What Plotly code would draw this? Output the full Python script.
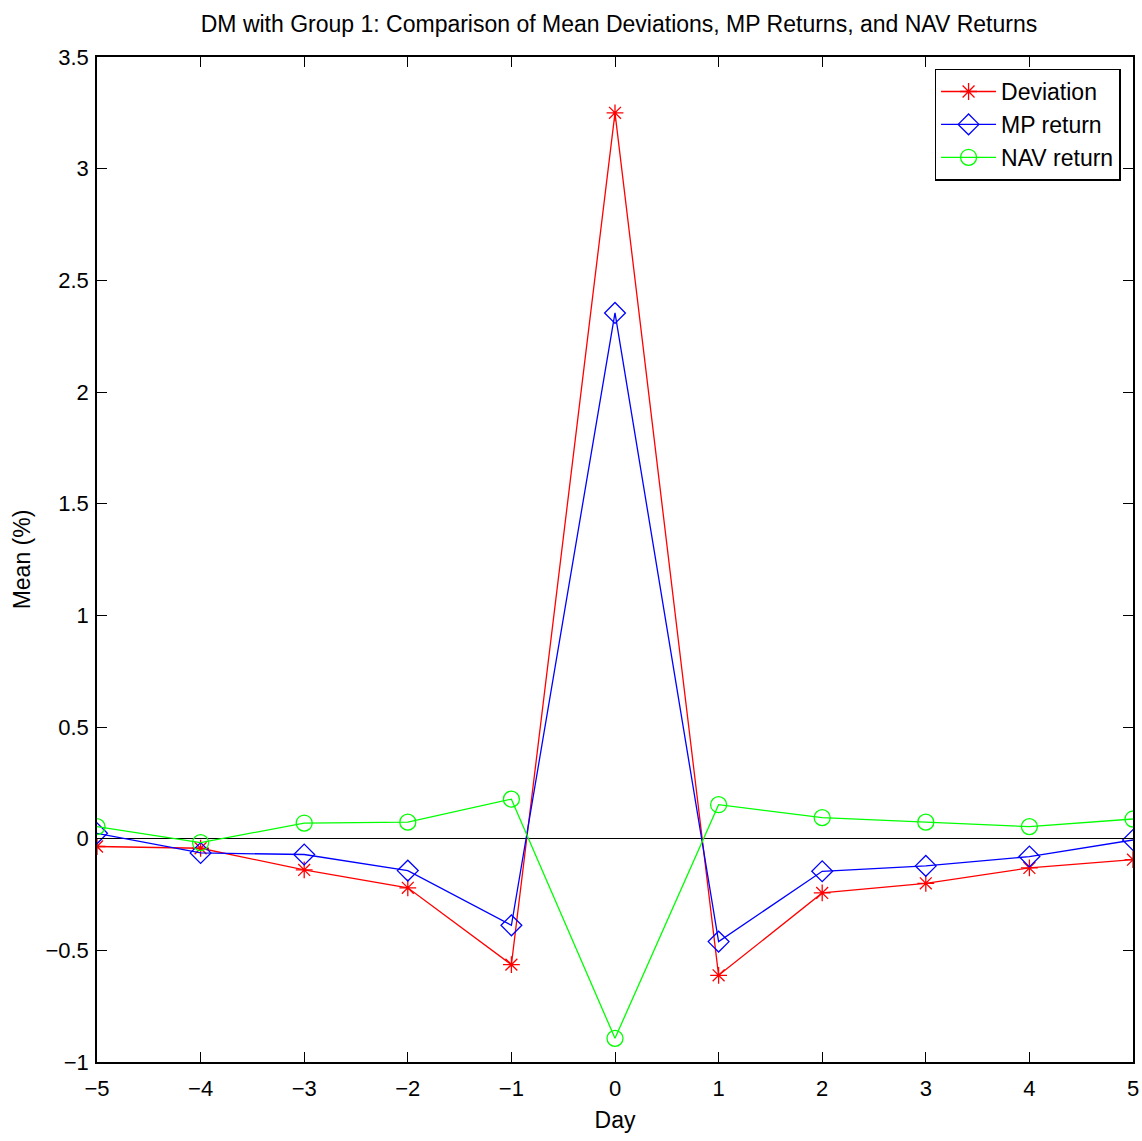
import plotly.graph_objects as go

days = [-5, -4, -3, -2, -1, 0, 1, 2, 3, 4, 5]
deviation = [-0.035, -0.043, -0.14, -0.22, -0.564, 3.25, -0.612, -0.243, -0.20, -0.131, -0.094]
mp_return = [0.024, -0.064, -0.071, -0.143, -0.388, 2.354, -0.461, -0.146, -0.122, -0.080, -0.006]
nav_return = [0.054, -0.018, 0.070, 0.074, 0.177, -0.894, 0.152, 0.094, 0.074, 0.054, 0.088]

y_ticks = [-1, -0.5, 0, 0.5, 1, 1.5, 2, 2.5, 3, 3.5]
y_tick_labels = ["\u22121", "\u22120.5", "0", "0.5", "1", "1.5", "2", "2.5", "3", "3.5"]
x_ticks = [-5, -4, -3, -2, -1, 0, 1, 2, 3, 4, 5]
x_tick_labels = ["\u22125", "\u22124", "\u22123", "\u22122", "\u22121", "0", "1", "2", "3", "4", "5"]

font_family = "Liberation Sans, Arial, sans-serif"

fig = go.Figure()
fig.add_trace(go.Scatter(x=days, y=deviation, name="Deviation", mode="lines+markers",
                         line=dict(color="#ff0000", width=1.3),
                         marker=dict(symbol="asterisk-open", size=14, color="#ff0000",
                                     line=dict(color="#ff0000", width=1.3))))
fig.add_trace(go.Scatter(x=days, y=mp_return, name="MP return", mode="lines+markers",
                         line=dict(color="#0000ff", width=1.3),
                         marker=dict(symbol="diamond-open", size=16, color="#0000ff",
                                     line=dict(color="#0000ff", width=1.3))))
fig.add_trace(go.Scatter(x=days, y=nav_return, name="NAV return", mode="lines+markers",
                         line=dict(color="#00ff00", width=1.3),
                         marker=dict(symbol="circle-open", size=16, color="#00ff00",
                                     line=dict(color="#00ff00", width=1.3))))

axis_common = dict(showline=True, linecolor="black", linewidth=1.5, mirror="ticks",
                   ticks="inside", ticklen=10, tickwidth=1, tickcolor="black",
                   showgrid=False, automargin=False, ticklabeloverflow="allow",
                   tickfont=dict(size=22, color="black", family=font_family))

fig.update_layout(
    width=1142, height=1141,
    margin=dict(l=97, r=9, t=57, b=79),
    paper_bgcolor="white", plot_bgcolor="white",
    font=dict(family=font_family, color="black"),
    title=dict(text="DM with Group 1: Comparison of Mean Deviations, MP Returns, and NAV Returns",
               x=0.542, xanchor="center", y=0.979, yanchor="middle",
               font=dict(size=23, family=font_family, color="black")),
    xaxis=dict(range=[-5, 5], tickvals=x_ticks, ticktext=x_tick_labels,
               ticklabelstandoff=6,
               title=dict(text="Day", font=dict(size=23), standoff=12),
               zeroline=False, **axis_common),
    yaxis=dict(range=[-1, 3.5], tickvals=y_ticks, ticktext=y_tick_labels,
               ticklabelstandoff=2,
               title=dict(text="Mean (%)", font=dict(size=23), standoff=8),
               zeroline=True, zerolinecolor="black", zerolinewidth=1.2, **axis_common),
    legend=dict(x=0.988, y=0.9885, xanchor="right", yanchor="top",
                bgcolor="white", bordercolor="black", borderwidth=1.5,
                font=dict(size=23, color="black", family=font_family),
                itemwidth=55, tracegroupgap=0),
    showlegend=True,
)

fig.write_html("out.html")
